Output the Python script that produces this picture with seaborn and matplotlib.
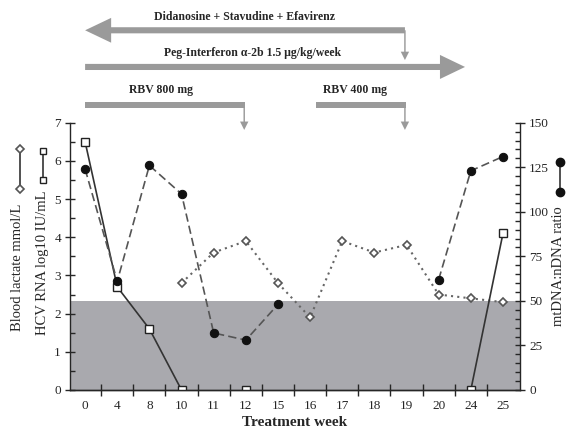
import numpy as np
import pandas as pd
import matplotlib.pyplot as plt
import seaborn as sns
from matplotlib.lines import Line2D
from matplotlib.patches import FancyArrow, Rectangle

# ─── DATA ───────────────────────────────────────────────
WEEKS = ["0", "4", "8", "10", "11", "12", "15", "16", "17", "18", "19", "20", "24", "25"]

# HCV RNA (log10 IU/mL), left axis
hcv_weeks = ["0", "4", "8", "10", "12", "24", "25"]
hcv_vals = [6.5, 2.7, 1.6, 0.0, 0.0, 0.0, 4.1]
hcv_seg = [0, 0, 0, 0, 1, 2, 2]

# Blood lactate (mmol/L), left axis
lactate_weeks = ["10", "11", "12", "15", "16", "17", "18", "19", "20", "24", "25"]
lactate_vals = [2.8, 3.6, 3.9, 2.8, 1.9, 3.9, 3.6, 3.8, 2.5, 2.4, 2.3]

# mtDNA:nDNA ratio, right axis
mtdna_weeks = ["0", "4", "8", "10", "11", "12", "15", "20", "24", "25"]
mtdna_vals = [124, 61, 126, 110, 32, 28, 48, 62, 123, 131]
mtdna_seg = [0, 0, 0, 0, 0, 0, 0, 1, 1, 1]

SHADE_TOP = 50  # lower normal limit, mtDNA ratio units

hcv_df = pd.DataFrame({"pos": [WEEKS.index(w) for w in hcv_weeks], "val": hcv_vals, "seg": hcv_seg})
lac_df = pd.DataFrame({"pos": [WEEKS.index(w) for w in lactate_weeks], "val": lactate_vals,
                       "seg": [0] * len(lactate_vals)})
mt_df = pd.DataFrame({"pos": [WEEKS.index(w) for w in mtdna_weeks], "val": mtdna_vals, "seg": mtdna_seg})

# ─── STYLE ──────────────────────────────────────────────
sns.set_style("ticks")
plt.rcParams["font.family"] = ["Liberation Serif", "DejaVu Serif"]
plt.rcParams["axes.linewidth"] = 1.0
plt.rcParams["xtick.labelsize"] = 9.5
plt.rcParams["ytick.labelsize"] = 9.5

W, H = 568, 434
fig = plt.figure(figsize=(W / 100, H / 100), dpi=100)
ax = fig.add_axes([70 / W, 44 / H, 450 / W, 267.3 / H])
ax2 = ax.twinx()

YMAX = 7
RMAX = 150
ax.set_xlim(-0.47, 13.53)
ax.set_ylim(0, YMAX)
ax2.set_ylim(0, RMAX)

ax.axhspan(0, SHADE_TOP * YMAX / RMAX, color="#a9a9ae", lw=0, zorder=0)

# ─── SERIES ─────────────────────────────────────────────
sns.lineplot(data=lac_df, x="pos", y="val", units="seg", estimator=None, sort=False, ax=ax,
             color="#666666", lw=1.5, linestyle=(0, (1, 2)), marker="D", markersize=4.5,
             markerfacecolor="white", markeredgecolor="#555555", markeredgewidth=1.2,
             legend=False, zorder=3)
sns.lineplot(data=hcv_df, x="pos", y="val", units="seg", estimator=None, sort=False, ax=ax,
             color="#333333", lw=1.2, marker="s", markersize=5.2,
             markerfacecolor="white", markeredgecolor="#222222", markeredgewidth=1.0,
             legend=False, zorder=4)
sns.lineplot(data=mt_df, x="pos", y="val", units="seg", estimator=None, sort=False, ax=ax2,
             color="#555555", lw=1.2, dashes=False, linestyle=(0, (5, 2.5)), marker="o", markersize=6,
             markerfacecolor="#111111", markeredgecolor="#111111",
             legend=False, zorder=3)

# ─── AXES ───────────────────────────────────────────────
for a in (ax, ax2):
    a.spines["top"].set_visible(False)
ax.spines["right"].set_visible(False)
ax2.spines["left"].set_visible(False)

ax.set_xticks(range(len(WEEKS)))
ax.set_xticklabels(WEEKS)
ax.set_xticks(np.arange(0.5, len(WEEKS) - 1, 1), minor=True)
ax.tick_params(axis="x", which="major", length=0, pad=7)
ax.tick_params(axis="x", which="minor", direction="inout", length=8, width=1)

ax.set_yticks(range(0, YMAX + 1))
ax.set_yticks(np.arange(0.5, YMAX, 1), minor=True)
ax.tick_params(axis="y", which="major", direction="inout", length=7, width=1, pad=3)
ax.tick_params(axis="y", which="minor", direction="in", length=3.5, width=1)

ax2.set_yticks(range(0, RMAX + 1, 25))
ax2.set_yticks(range(0, RMAX + 1, 5), minor=True)
ax2.tick_params(axis="y", which="major", direction="inout", length=7, width=1, pad=3)
ax2.tick_params(axis="y", which="minor", direction="in", length=3.5, width=1)

ax.set_xlabel("Treatment week", fontsize=11, fontweight="bold", labelpad=3)
ax.set_ylabel("")
ax2.set_ylabel("")

# axis titles with their little series keys
fig.text(18 / W, 1 - 267 / H, "Blood lactate mmol/L", rotation=90, ha="center", va="center", fontsize=10.5)
fig.text(43 / W, 1 - 263 / H, "HCV RNA log10 IU/mL", rotation=90, ha="center", va="center", fontsize=10.5)
fig.text(559 / W, 1 - 266 / H, "mtDNA:nDNA ratio", rotation=90, ha="center", va="center", fontsize=10.5)

fig.add_artist(Line2D([20 / W, 20 / W], [1 - 149 / H, 1 - 189 / H], transform=fig.transFigure,
                      color="#333333", lw=1.2, marker="D", markersize=4.5,
                      markerfacecolor="white", markeredgecolor="#555555", markeredgewidth=1.2))
fig.add_artist(Line2D([43 / W, 43 / W], [1 - 151 / H, 1 - 180 / H], transform=fig.transFigure,
                      color="#333333", lw=1.2, marker="s", markersize=5,
                      markerfacecolor="white", markeredgecolor="#222222", markeredgewidth=1.0))
fig.add_artist(Line2D([560 / W, 560 / W], [1 - 162 / H, 1 - 192 / H], transform=fig.transFigure,
                      color="#333333", lw=1.2, marker="o", markersize=6,
                      markerfacecolor="#111111", markeredgecolor="#111111"))

# ─── TREATMENT ARROWS ───────────────────────────────────
ARROW_C = "#9a9a9a"


def add(p):
    ax.add_patch(p)
    p.set_clip_on(False)


def down_arrow(x, y0, y1):
    add(FancyArrow(x, y0, 0, y1 - y0, width=0.045, head_width=0.26, head_length=0.22,
                   length_includes_head=True, color=ARROW_C, lw=0))


add(FancyArrow(9.95, 9.42, -9.95, 0, width=0.16, head_width=0.65, head_length=0.81,
               length_includes_head=True, color=ARROW_C, lw=0))
down_arrow(9.95, 9.42, 8.64)
add(FancyArrow(0, 8.46, 11.82, 0, width=0.16, head_width=0.63, head_length=0.78,
               length_includes_head=True, color=ARROW_C, lw=0))
add(Rectangle((0, 7.46 - 0.085), 4.97, 0.17, color=ARROW_C, lw=0))
down_arrow(4.95, 7.46, 6.81)
add(Rectangle((7.18, 7.46 - 0.085), 9.95 - 7.18 + 0.02, 0.17, color=ARROW_C, lw=0))
down_arrow(9.95, 7.46, 6.81)

txt = dict(ha="center", va="center", fontsize=8.5, fontweight="bold", clip_on=False)
ax.text(4.95, 9.76, "Didanosine + Stavudine + Efavirenz", **txt)
ax.text(5.2, 8.82, "Peg-Interferon \u03b1-2b 1.5 \u03bcg/kg/week", **txt)
ax.text(2.36, 7.85, "RBV 800 mg", **txt)
ax.text(8.4, 7.85, "RBV 400 mg", **txt)

fig.savefig("out.png", dpi=100, facecolor="white")
